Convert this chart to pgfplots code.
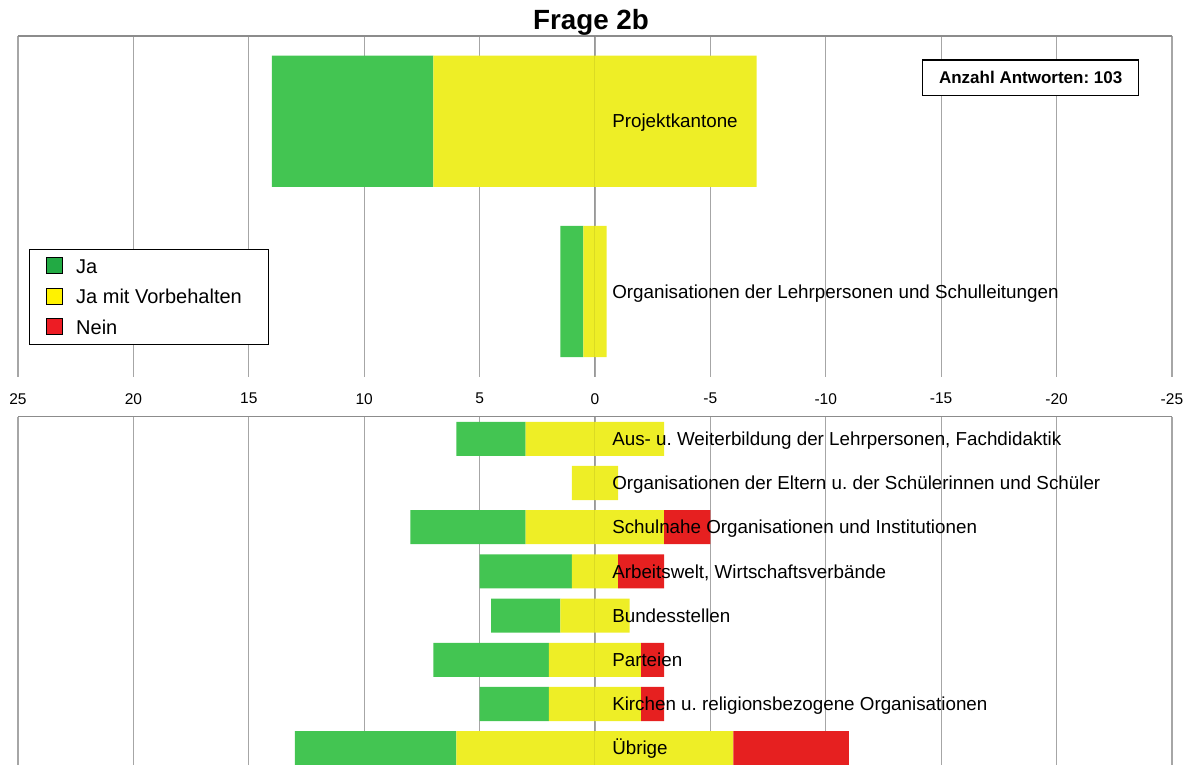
\documentclass[border=0pt]{standalone}
\usepackage{pgfplots}
\usepackage{pgfplotstable}
\pgfplotsset{compat=1.18}
\usepackage{fontspec}
\setmainfont{Liberation Sans}
\frenchspacing
\definecolor{cJa}{RGB}{67,197,82}
\definecolor{cJaV}{RGB}{238,238,38}
\definecolor{cNein}{RGB}{230,32,32}
\definecolor{lJa}{RGB}{34,170,68}
\definecolor{lJaV}{RGB}{255,242,0}
\definecolor{lNein}{RGB}{237,28,36}
\definecolor{gridc}{RGB}{166,166,166}
\definecolor{framec}{RGB}{140,140,140}

% columns: y position, invisible offset, Nein, Ja mit Vorbehalten, Ja
\pgfplotstableread{
y off nein jav ja
1 -7 0 14 7
2 -0.5 0 1 1
}\tabUpper
\pgfplotstableread{
y off nein jav ja
1 -3 0 6 3
2 -1 0 2 0
3 -5 2 6 5
4 -3 2 2 4
5 -1.5 0 3 3
6 -3 1 4 5
7 -3 1 4 3
8 -11 5 12 7
}\tabLower

\newcommand{\catfont}{\fontsize{18.8}{22}\selectfont}
\newcommand{\cat}[2]{\node[anchor=base west, font=\catfont, inner sep=0pt, yshift=-6.7pt] at (#1) {#2};}

\pgfplotsset{
  common/.style={
    scale only axis, width=1154pt,
    x dir=reverse, xmin=-25, xmax=25,
    y dir=reverse,
    xbar stacked, stack negative=on previous, bar width=0.77,
    xmajorgrids, grid style={gridc, line width=1.2pt},
    xtick={-25,-20,...,25}, ytick=\empty,
    axis line style={draw=none},
    major tick length=0pt,
    clip=false,
    xticklabel style={font=\fontsize{15.5}{18}\selectfont, /pgf/number format/assume math mode=true, yshift=-13pt},
  },
  legsq/.style={legend image code/.code={\fill[##1] (0pt,-7.3pt) rectangle (16pt,8.7pt);}},
}

\begin{document}
\begin{tikzpicture}
\useasboundingbox (0,0) rectangle (1188pt,-764pt);

% ---------- upper part ----------
\begin{axis}[common,
  at={(18pt,-36pt)}, anchor=north west,
  height=340.7pt, ymin=0.5, ymax=2.5,
  title={Frage 2b},
  title style={font=\bfseries\fontsize{27.8}{32}\selectfont, at={(0.5,1)}, anchor=base, yshift=1pt, xshift=-4pt},
  legend style={at={(0.00927,0.374)}, anchor=north west, draw=black, line width=1pt,
    font=\fontsize{20}{24}\selectfont, inner xsep=17pt, inner ysep=6.8pt, row sep=10.4pt, column sep=13pt,
    nodes={inner sep=0pt, text height=17pt, text depth=3pt}},
  legend cell align=left,
]
\addplot[draw=none, fill=none, forget plot] table[x=off, y=y]{\tabUpper};
\addplot[draw=none, fill=cNein, forget plot] table[x=nein, y=y]{\tabUpper};
\addplot[draw=none, fill=cJaV, forget plot] table[x=jav, y=y]{\tabUpper};
\addplot[draw=none, fill=cJa, forget plot] table[x=ja, y=y]{\tabUpper};

\addlegendimage{legsq, fill=lJa}\addlegendentry{Ja}
\addlegendimage{legsq, fill=lJaV}\addlegendentry{Ja mit Vorbehalten\rule{9.7pt}{0pt}}
\addlegendimage{legsq, fill=lNein}\addlegendentry{Nein}

\coordinate (uz1) at (axis cs:0,0.5);
\coordinate (uz2) at (axis cs:0,2.5);
\coordinate (ul1) at (axis cs:-0.74,1);
\coordinate (ul2) at (axis cs:-0.74,2);
\draw[framec, line width=1.2pt] (axis description cs:0,1) -- (axis description cs:1,1);
\node[draw=black, line width=1.2pt, fill=white, minimum width=216pt, minimum height=35.3pt, inner sep=0pt,
  font=\bfseries\fontsize{17}{20}\selectfont] at (axis description cs:0.8776,0.8776) {Anzahl Antworten: 103};
\end{axis}
\draw[black, opacity=0.08, line width=1pt] (uz1) -- (uz2);
\cat{ul1}{Projektkantone}
\cat{ul2}{Organisationen der Lehrpersonen und Schulleitungen}

% ---------- lower part ----------
\begin{axis}[common,
  at={(18pt,-416.7pt)}, anchor=north west,
  height=353.6pt, ymin=0.5, ymax=8.5,
  xticklabels={},
]
\addplot[draw=none, fill=none] table[x=off, y=y]{\tabLower};
\addplot[draw=none, fill=cNein] table[x=nein, y=y]{\tabLower};
\addplot[draw=none, fill=cJaV] table[x=jav, y=y]{\tabLower};
\addplot[draw=none, fill=cJa] table[x=ja, y=y]{\tabLower};

\coordinate (lz1) at (axis cs:0,0.5);
\coordinate (lz2) at (axis cs:0,8.5);
\coordinate (ll1) at (axis cs:-0.74,1);
\coordinate (ll2) at (axis cs:-0.74,2);
\coordinate (ll3) at (axis cs:-0.74,3);
\coordinate (ll4) at (axis cs:-0.74,4);
\coordinate (ll5) at (axis cs:-0.74,5);
\coordinate (ll6) at (axis cs:-0.74,6);
\coordinate (ll7) at (axis cs:-0.74,7);
\coordinate (ll8) at (axis cs:-0.74,8);
\draw[framec, line width=1.2pt] (axis description cs:0,1) -- (axis description cs:1,1);
\end{axis}
\draw[black, opacity=0.08, line width=1pt] (lz1) -- (lz2);
\cat{ll1}{Aus- u. Weiterbildung der Lehrpersonen, Fachdidaktik}
\cat{ll2}{Organisationen der Eltern u. der Schülerinnen und Schüler}
\cat{ll3}{Schulnahe Organisationen und Institutionen}
\cat{ll4}{Arbeitswelt, Wirtschaftsverbände}
\cat{ll5}{Bundesstellen}
\cat{ll6}{Parteien}
\cat{ll7}{Kirchen u. religionsbezogene Organisationen}
\cat{ll8}{Übrige}
\end{tikzpicture}
\end{document}
